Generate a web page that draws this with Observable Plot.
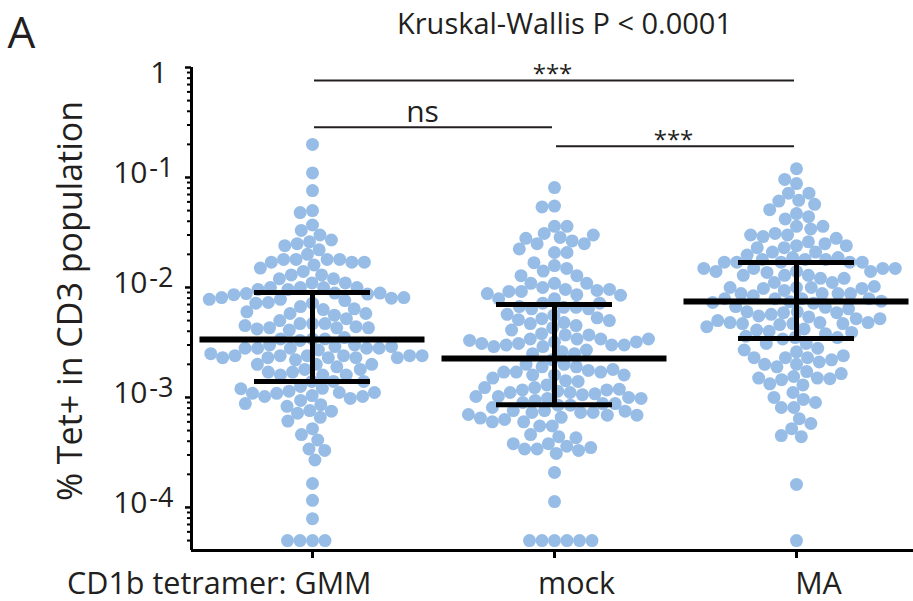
<!DOCTYPE html>
<html>
<head>
<meta charset="utf-8">
<script src="https://cdn.jsdelivr.net/npm/d3@7"></script>
<script src="https://cdn.jsdelivr.net/npm/@observablehq/plot@0.6"></script>
<style>
  html, body { margin: 0; padding: 0; background: #fff; overflow: hidden; }
  #chart svg { display: block; }
</style>
</head>
<body>
<div id="chart"></div>
<script>
// ---------------- data ----------------
const groups = ["GMM", "mock", "MA"];
const xLabels = ["CD1b tetramer: GMM", "mock", "MA"];
const yLabel = "% Tet+ in CD3 population";
const panelLetter = "A";
const testText = "Kruskal-Wallis P < 0.0001";

// % Tet+ in CD3 population per donor (zero values drawn at the bottom, 5e-5)
const gmmValues = [
  0.2, 0.11, 0.076, 0.05, 0.048, 0.037, 0.033, 0.030, 0.027, 0.026, 0.025, 0.024, 0.022, 0.020,
  0.018, 0.018, 0.018, 0.018, 0.017, 0.017, 0.017, 0.016, 0.015, 0.014, 0.013, 0.013, 0.012, 0.012,
  0.011, 0.011, 0.010, 0.010, 0.010, 0.010, 0.0096, 0.0096,
  0.0089, 0.0087, 0.0088, 0.0089, 0.0086,
  0.0072, 0.0067, 0.0063, 0.0078, 0.0076, 0.0073, 0.0080, 0.0081, 0.0081, 0.0064, 0.0072, 0.0078,
  0.0058, 0.0056, 0.0047, 0.0047, 0.0050, 0.0052, 0.0047, 0.0058, 0.0060,
  0.0044, 0.0043, 0.0043, 0.0041, 0.0042, 0.0043, 0.0045,
  0.0034, 0.0033, 0.0034, 0.0035, 0.0034,
  0.0030, 0.0030, 0.0029, 0.0028, 0.0028, 0.0028, 0.0028, 0.0028, 0.0027, 0.0029,
  0.0024, 0.0024, 0.0024, 0.0023, 0.0023, 0.0024, 0.0023, 0.0023, 0.0023, 0.0024, 0.0025, 0.0024,
  0.0022, 0.0020, 0.0019, 0.0018, 0.0017, 0.0016, 0.0016, 0.0016, 0.0017, 0.0018, 0.0020, 0.0020,
  0.0014, 0.0014, 0.0014,
  0.00126, 0.00121, 0.00114, 0.00111, 0.00109, 0.00104, 0.00098, 0.00102, 0.00102, 0.00109, 0.00111, 0.00120,
  0.00094, 0.00086, 0.00076, 0.00072, 0.00066, 0.00075, 0.00083, 0.00088,
  0.00061, 0.00052, 0.00046, 0.00041, 0.00034, 0.00033, 0.00027, 0.000165, 0.000116, 0.000079,
  0.00005, 0.00005, 0.00005, 0.00005
];
const mockValues = [
  0.081, 0.055, 0.054, 0.036, 0.031, 0.036,
  0.0285, 0.0265, 0.025, 0.025, 0.028, 0.030,
  0.0208, 0.0208, 0.0224,
  0.0158, 0.0141, 0.0149, 0.0168,
  0.0128, 0.0109, 0.0100, 0.0109, 0.0109, 0.0128,
  0.0096, 0.0092, 0.0094, 0.0092, 0.0096,
  0.0086, 0.0079, 0.0072, 0.0079, 0.0085, 0.0088,
  0.0066, 0.0066, 0.0064, 0.0064, 0.0067, 0.0072,
  0.0056, 0.0052, 0.0048, 0.0045, 0.0043, 0.0047, 0.0051, 0.0053, 0.0057, 0.0050,
  0.0038, 0.0037, 0.0034, 0.0034, 0.0037, 0.0041,
  0.0034, 0.0032, 0.0031, 0.0030, 0.0030, 0.0029, 0.0029, 0.0030, 0.0031, 0.0032, 0.0033, 0.0034,
  0.0026, 0.0025, 0.0025, 0.0027, 0.0022,
  0.0020, 0.0019, 0.0019, 0.0020,
  0.00176, 0.0017, 0.0016, 0.0016, 0.0017, 0.0017, 0.0018,
  0.00142, 0.0013, 0.0014, 0.0015, 0.0016,
  0.00123, 0.00117, 0.00114, 0.00111, 0.00106, 0.00108, 0.00111, 0.00117, 0.00119, 0.00123,
  0.00102, 0.00098, 0.00094, 0.00090, 0.0010, 0.00102, 0.00098,
  0.00085, 0.00085, 0.00088, 0.00088,
  0.00076, 0.00073, 0.00073, 0.00073, 0.00076, 0.00081,
  0.00075, 0.00069, 0.00066, 0.00063, 0.00060, 0.00055, 0.00055, 0.00060, 0.00065, 0.00069, 0.00070,
  0.00044, 0.00038, 0.00036, 0.00034, 0.00033, 0.00031, 0.00034, 0.00035, 0.00038, 0.00043, 0.00046,
  0.000208, 0.000113,
  0.00005, 0.00005, 0.00005, 0.00005, 0.00005, 0.00005
];
const maValues = [
  0.12, 0.088, 0.096,
  0.072, 0.062, 0.072, 0.061,
  0.057, 0.047, 0.042, 0.044, 0.051,
  0.036, 0.034, 0.030, 0.031, 0.036,
  0.024, 0.029, 0.023, 0.026, 0.021, 0.025, 0.021, 0.028, 0.023, 0.030, 0.024,
  0.0187, 0.018, 0.018, 0.018, 0.0187, 0.0197,
  0.017, 0.017, 0.017, 0.017, 0.017,
  0.0140, 0.0129, 0.0129, 0.0121, 0.0111, 0.0137, 0.0149, 0.0111, 0.0121, 0.0129, 0.0140, 0.0140, 0.0149, 0.0149, 0.0149,
  0.0100, 0.0100, 0.0098, 0.0094, 0.0088, 0.0088, 0.0084, 0.0088, 0.0088, 0.0098, 0.0100, 0.0102,
  0.0079, 0.0079, 0.0079, 0.0079, 0.0074, 0.0073, 0.0075, 0.0072,
  0.0066, 0.0060, 0.0059, 0.0057, 0.0054, 0.0055, 0.0059, 0.0060, 0.0064, 0.0067,
  0.0052, 0.0048, 0.0047, 0.0047, 0.0046, 0.0047, 0.0048, 0.0048, 0.0050, 0.0052,
  0.0042, 0.0040, 0.0038, 0.0041, 0.0044,
  0.0035, 0.0034, 0.0031, 0.0031, 0.0035, 0.0036, 0.0039,
  0.0028, 0.0026, 0.0023, 0.0023, 0.0021, 0.0020, 0.0019, 0.0020, 0.0022, 0.0023, 0.0024, 0.0027,
  0.00172, 0.00155, 0.0015, 0.00145, 0.0013, 0.00133, 0.00148, 0.0015, 0.00165,
  0.00111, 0.00096, 0.00081, 0.00081, 0.0009, 0.0010,
  0.00064, 0.00052, 0.00058,
  0.00044, 0.00045,
  0.000162,
  0.00005
];

// median with interquartile range
const medians = [0.00337, 0.00226, 0.00746];
const lowerQuartiles = [0.00140, 0.00086, 0.00344];
const upperQuartiles = [0.0090, 0.0070, 0.0169];

// axis ticks
const majorTicks = [1, 0.1, 0.01, 0.001, 0.0001];
const tickExponents = ["-1", "-2", "-3", "-4"];

// pairwise comparisons
const comparisonFrom = ["GMM", "GMM", "mock"];
const comparisonTo = ["MA", "mock", "MA"];
const comparisonLabels = ["***", "ns", "***"];

// ---------------- build ----------------
const seriesValues = [gmmValues, mockValues, maValues];
const points = groups.flatMap((g, i) => seriesValues[i].map(v => ({group: g, value: v})));
const stats = groups.map((g, i) => ({group: g, median: medians[i], q1: lowerQuartiles[i], q3: upperQuartiles[i]}));
const minorTicks = [];
for (let e = -5; e < 0; e++) for (let k = 2; k <= 9; k++) {
  const v = k * Math.pow(10, e);
  if (v >= 4.06e-5 && v < 1) minorTicks.push(+v.toPrecision(3));
}
const bracketLevels = [0.762, 0.287, 0.192];
const comparisons = comparisonFrom.map((a, i) => ({a, b: comparisonTo[i], label: comparisonLabels[i], level: bracketLevels[i]}));
const idx = g => groups.indexOf(g);

const ink = "#231f20";
const yMin = 4.06e-5;

const chart = Plot.plot({
  width: 913,
  height: 601,
  marginTop: 67,
  marginBottom: 51,
  marginLeft: 191,
  marginRight: 0,
  style: {fontFamily: "'Open Sans', sans-serif", background: "#fff", color: ink},
  fx: {domain: groups, range: [191, 917], padding: 0, axis: null, label: null},
  x: {domain: [-0.5, 0.5], axis: null},
  y: {type: "log", domain: [yMin, 1], axis: null},
  marks: [
    // points
    Plot.dot(points, Plot.dodgeX({anchor: "middle", padding: 0.5, r: 6},
      {fx: "group", y: "value", r: 6.5, fill: "#97bde6", stroke: "none"})),
    // median + IQR
    Plot.ruleY(stats, {fx: "group", y: "median", insetLeft: 8.5, insetRight: 8.5, stroke: "#000", strokeWidth: 6}),
    Plot.ruleY(stats, {fx: "group", y: "q1", insetLeft: 63, insetRight: 63, stroke: "#000", strokeWidth: 5}),
    Plot.ruleY(stats, {fx: "group", y: "q3", insetLeft: 63, insetRight: 63, stroke: "#000", strokeWidth: 5}),
    Plot.ruleX(stats, {fx: "group", x: 0, y1: "q1", y2: "q3", stroke: "#000", strokeWidth: 5}),
    // axes lines
    Plot.ruleY([yMin], {stroke: "#000", strokeWidth: 3}),
    Plot.ruleX(["GMM"], {fx: d => d, x: -0.5, y1: yMin, y2: 1, stroke: "#000", strokeWidth: 3}),
    Plot.axisY({ticks: majorTicks, tickSize: 6, text: null, label: null, strokeWidth: 2.5, stroke: "#000"}),
    Plot.axisY({ticks: minorTicks, tickSize: 4, text: null, label: null, strokeWidth: 2, stroke: "#000"}),
    Plot.axisFx({anchor: "bottom", tickSize: 8, text: null, label: null, strokeWidth: 3, stroke: "#000"}),
    // y tick labels
    Plot.text([1], {fx: () => "GMM", y: d => d, text: () => "1", frameAnchor: "left", textAnchor: "end", dx: -24, dy: 6, fontSize: 30, fill: ink}),
    Plot.text(majorTicks.slice(1), {fx: () => "GMM", y: d => d, text: () => "10", frameAnchor: "left", textAnchor: "end", dx: -44, dy: -4.5, fontSize: 30, fill: ink}),
    Plot.text(majorTicks.slice(1), {fx: () => "GMM", y: d => d, text: (d, i) => tickExponents[i], frameAnchor: "left", textAnchor: "end", dx: -18, dy: -9, fontSize: 27, fill: ink}),
    // x labels
    Plot.text(groups.slice(0, 1), {fx: d => d, text: () => xLabels[0], frameAnchor: "bottom", textAnchor: "end", lineAnchor: "bottom", dx: 59, dy: 43, fontSize: 30.5, fill: ink}),
    Plot.text(groups.slice(1), {fx: d => d, text: d => xLabels[idx(d)], frameAnchor: "bottom", textAnchor: "middle", lineAnchor: "bottom", dx: 22, dy: 43, fontSize: 30.5, fill: ink}),
    // y label
    Plot.text([yLabel], {fx: () => "GMM", frameAnchor: "left", textAnchor: "middle", rotate: -90, lineAnchor: "bottom", dx: -110, dy: -8, fontSize: 34, fill: ink}),
    // panel letter & test result
    Plot.text([panelLetter], {fx: () => "GMM", frameAnchor: "top-left", textAnchor: "start", lineAnchor: "bottom", dx: -184, dy: -20, fontSize: 44, fill: ink}),
    Plot.text([testText], {fx: () => "mock", frameAnchor: "top", textAnchor: "middle", lineAnchor: "bottom", dx: 10, dy: -34, fontSize: 29, fill: ink}),
    // comparison brackets
    Plot.ruleY(comparisons, {fx: () => "GMM", x1: d => idx(d.a), x2: d => idx(d.b), y: "level", insetLeft: 2, insetRight: 2, stroke: ink, strokeWidth: 2}),
    Plot.text(comparisons.filter(d => d.label !== "ns"), {fx: () => "GMM", x: d => (idx(d.a) + idx(d.b)) / 2, y: "level", text: "label", lineAnchor: "bottom", dx: -2, dy: 2, fontSize: 24, fill: ink}),
    Plot.text(comparisons.filter(d => d.label === "ns"), {fx: () => "GMM", x: d => (idx(d.a) + idx(d.b)) / 2, y: "level", text: "label", lineAnchor: "bottom", dx: -11, dy: -5, fontSize: 30, fill: ink})
  ]
});
document.getElementById("chart").append(chart);
</script>
</body>
</html>
